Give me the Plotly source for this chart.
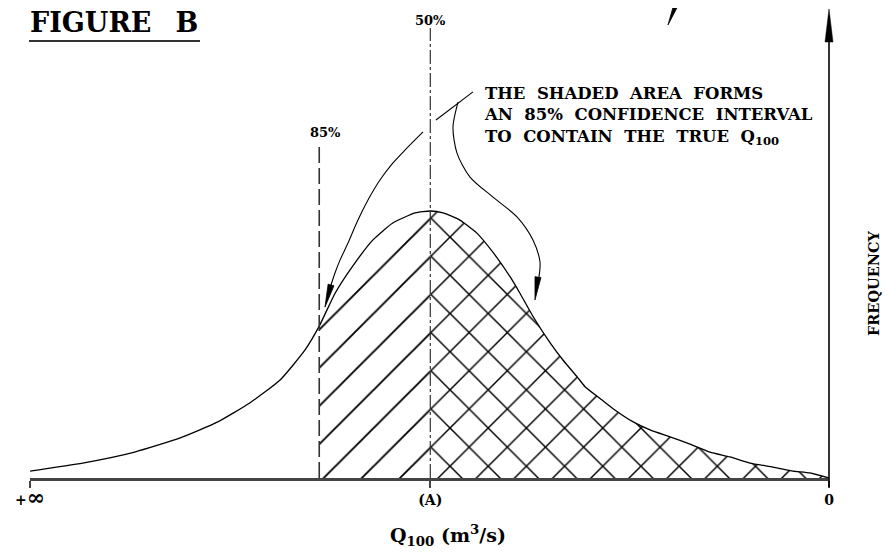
import plotly.graph_objects as go

# ---------------- data (position along Q100 axis: 0 = +inf side, 100 = zero side) ----------------
position = [0, 6.6, 13.1, 18.8, 23.5, 27.5, 31.3, 34.4, 36.2, 38.2, 40.3, 42.9, 45.4, 48.2, 50.1,
            51.7, 53.8, 55.9, 58.0, 60.1, 61.3, 63.0, 65.1, 66.7, 68.5, 69.5, 71.6, 73.2, 75.5,
            77.6, 80.1, 82.6, 85.1, 87.6, 90.1, 93.0, 95.5, 97.6, 100]
frequency = [0.026, 0.056, 0.097, 0.150, 0.210, 0.281, 0.367, 0.479, 0.569, 0.693, 0.790, 0.891,
             0.955, 0.993, 1.0, 0.993, 0.966, 0.918, 0.843, 0.753, 0.693, 0.603, 0.506, 0.442,
             0.378, 0.341, 0.292, 0.255, 0.210, 0.180, 0.154, 0.127, 0.097, 0.079, 0.056, 0.041,
             0.026, 0.019, 0.0]
x85 = 36.2          # 85% line
xA = 50.1           # 50% line, value (A)
tick_vals = [0, xA, 100]
tick_text = ["+<span style='font-size:22px'>∞</span>", "(A)", "0"]

# leader arrows (in the same position / frequency units)
leader_x = [55.44, 50.81]
leader_y = [1.446, 1.341]
left_arrow_x = [49.19, 46.93, 45.43, 43.80, 42.30, 40.93, 39.80, 38.80, 38.17, 37.67]
left_arrow_y = [1.296, 1.228, 1.180, 1.116, 1.041, 0.959, 0.880, 0.816, 0.768, 0.723]
left_head_x = [36.92, 37.31, 38.04, 36.92]
left_head_y = [0.640, 0.726, 0.720, 0.640]
right_arrow_x = [53.57, 52.94, 53.44, 55.07, 57.95, 60.95, 62.95, 63.83, 63.70]
right_arrow_y = [1.408, 1.315, 1.217, 1.127, 1.052, 0.978, 0.891, 0.809, 0.753]
right_head_x = [63.20, 63.20, 63.95, 63.20]
right_head_y = [0.667, 0.754, 0.751, 0.667]
top_head_x = [79.85, 80.73, 81.48, 79.85]
top_head_y = [1.697, 1.790, 1.790, 1.697]

i85 = position.index(x85)
iA = position.index(xA)

FONT = "DejaVu Serif"
INK = "black"

fig = go.Figure()

fig.add_trace(go.Scatter(
    x=position[i85:iA + 1], y=frequency[i85:iA + 1], mode="lines",
    line=dict(width=0, shape="spline", smoothing=0.5), fill="tozeroy", fillcolor="white",
    fillpattern=dict(shape="/", size=27, solidity=0.07, fgcolor=INK, fgopacity=1, bgcolor="white"),
    hoverinfo="skip", showlegend=False))
fig.add_trace(go.Scatter(
    x=position[iA:], y=frequency[iA:], mode="lines",
    line=dict(width=0, shape="spline", smoothing=0.5), fill="tozeroy", fillcolor="white",
    fillpattern=dict(shape="x", size=27, solidity=0.105, fgcolor=INK, fgopacity=1, bgcolor="white"),
    hoverinfo="skip", showlegend=False))
fig.add_trace(go.Scatter(
    x=position, y=frequency, mode="lines",
    line=dict(color=INK, width=1.3, shape="spline", smoothing=0.5),
    hoverinfo="skip", showlegend=False))
fig.add_trace(go.Scatter(
    x=[x85, x85], y=[0, 1.247], mode="lines",
    line=dict(color="#333", width=1.6, dash="16px,5px"), hoverinfo="skip", showlegend=False))
fig.add_trace(go.Scatter(
    x=[xA, xA], y=[0, 1.685], mode="lines",
    line=dict(color="#333", width=1.2, dash="14px,3px,3px,3px"), hoverinfo="skip", showlegend=False))

for xs, ys, sh in [(leader_x, leader_y, "linear"), (left_arrow_x, left_arrow_y, "spline"),
                   (right_arrow_x, right_arrow_y, "spline")]:
    fig.add_trace(go.Scatter(x=xs, y=ys, mode="lines",
                             line=dict(color=INK, width=1.1, shape=sh, smoothing=0.8),
                             hoverinfo="skip", showlegend=False))
for xs, ys in [(left_head_x, left_head_y), (right_head_x, right_head_y), (top_head_x, top_head_y)]:
    fig.add_trace(go.Scatter(x=xs, y=ys, mode="lines", fill="toself", fillcolor=INK,
                             line=dict(color=INK, width=0.8), hoverinfo="skip", showlegend=False))

# ---------------- layout ----------------
OFF = 8                      # page body margin in the browser
W, H = 891 - OFF, 557 - OFF
L = 30 - OFF                 # plot left   at page x 30
R = W - (829 - OFF)          # plot right  at page x 829
B = H - (478 - OFF)          # baseline    at page y 478
T = 0
PW, PH = W - L - R, H - T - B


def pxx(p):   # page pixel x -> paper
    return (p - OFF - L) / PW


def pxy(p):   # page pixel y -> paper
    return (H - B - (p - OFF)) / PH


annotations = [
    dict(text="FIGURE\u00a0\u00a0\u2009B", x=pxx(28), y=pxy(23), xanchor="left", yanchor="middle",
         font=dict(family=FONT, size=27, color=INK, weight="bold")),
    dict(text="50%", x=pxx(431), y=pxy(20), xanchor="center", yanchor="middle",
         font=dict(family=FONT, size=13, color=INK, weight="bold")),
    dict(text="85%", x=pxx(325), y=pxy(132), xanchor="center", yanchor="middle",
         font=dict(family=FONT, size=13, color=INK, weight="bold")),
    dict(text="THE\u00a0\u00a0SHADED\u00a0\u00a0AREA\u00a0\u00a0FORMS<br>"
              "AN\u00a0\u00a085%\u00a0\u00a0CONFIDENCE\u00a0\u00a0INTERVAL<br>"
              "TO\u00a0\u00a0CONTAIN\u00a0\u00a0THE\u00a0\u00a0TRUE\u00a0\u00a0Q<sub>100</sub>",
         x=pxx(482), y=pxy(116), xanchor="left", yanchor="middle", align="left",
         font=dict(family=FONT, size=16.5, color=INK, weight="bold")),
    dict(text="FREQUENCY", x=pxx(873), y=pxy(283), xanchor="center", yanchor="middle",
         textangle=-90, font=dict(family=FONT, size=14.5, color=INK, weight="bold")),
    dict(text="Q<sub>100</sub> (m<sup>3</sup>/s)", x=pxx(448), y=pxy(535), xanchor="center",
         yanchor="middle", font=dict(family=FONT, size=19, color=INK, weight="bold")),
]
for a in annotations:
    a.update(xref="paper", yref="paper", showarrow=False)

shapes = [
    dict(type="line", xref="paper", yref="paper", x0=pxx(29), x1=pxx(200), y0=pxy(41), y1=pxy(41),
         line=dict(color="#333", width=2)),
    dict(type="line", xref="paper", yref="paper", x0=1, x1=1, y0=pxy(487), y1=pxy(38),
         line=dict(color=INK, width=1.6)),
    dict(type="path", xref="paper", yref="paper",
         path=f"M {pxx(829)} {pxy(9)} L {pxx(825)} {pxy(42)} L {pxx(833)} {pxy(42)} Z",
         fillcolor=INK, line=dict(color=INK, width=0.5)),
]

fig.update_layout(
    width=W, height=H, margin=dict(l=L, r=R, t=T, b=B),
    paper_bgcolor="white", plot_bgcolor="white", showlegend=False,
    annotations=annotations, shapes=shapes,
    xaxis=dict(range=[0, 100], showgrid=False, zeroline=False, showline=True, linecolor="#444",
               linewidth=2.5, ticks="outside", ticklen=7, tickwidth=1.5, tickcolor="#444",
               tickvals=tick_vals, ticktext=tick_text,
               tickfont=dict(family=FONT, size=14, color=INK, weight="bold"), fixedrange=True),
    yaxis=dict(range=[0, (478 - OFF) / 267], visible=False, fixedrange=True),
)

fig.write_html("out.html")
